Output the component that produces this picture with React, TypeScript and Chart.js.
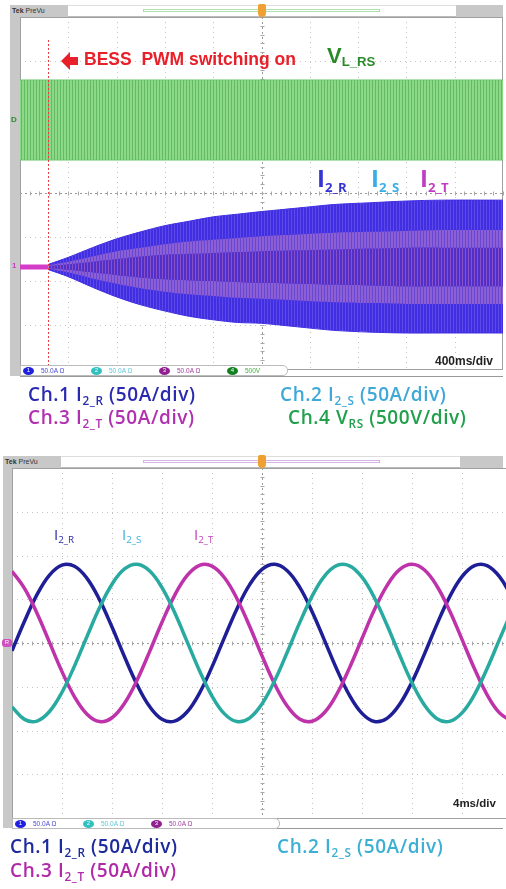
import React, { useEffect, useRef } from "react";
import { Chart, registerables } from "chart.js";
Chart.register(...registerables);

// ---------- Top scope (400 ms/div) ----------
const TOP_X_RANGE = [-2, 2]; // seconds
const SWITCH_ON_TIME = -1.764; // s, BESS PWM switching on
const V_BAND_TIME = [-2, 2];
const V_UPPER = [455, 455];
const V_LOWER = [-455, -455];
const PRE_TIME = [-2, SWITCH_ON_TIME];
const PRE_CURRENT = [0, 0];
const ENV_TIME = [-1.764, -1.6, -1.4, -1.2, -1.0, -0.8, -0.6, -0.4, -0.2, 0, 0.3, 0.6, 0.9, 1.2, 1.5, 2.0];
const I_UPPER = [3, 11, 22, 32, 40, 47, 52, 57, 60, 63, 67, 71, 73, 75, 76, 76];
const I_LOWER = [-3, -11, -23, -34, -43, -50, -56, -60, -63, -64, -68, -72, -74, -75, -75, -75];
const P_UPPER_OUTER = [2, 6, 12, 18, 22, 26, 29, 31, 33, 35, 37, 39, 40, 41, 42, 42];
const P_UPPER_INNER = [1, 3, 6, 9, 12, 14, 15, 16, 17, 18, 19, 20, 21, 22, 22, 22];
const P_LOWER_INNER = [-1, -3, -6, -9, -12, -14, -15, -16, -17, -18, -19, -20, -21, -22, -22, -22];
const P_LOWER_OUTER = [-2, -6, -13, -19, -24, -28, -31, -33, -35, -36, -38, -40, -41, -42, -42, -42];

// ---------- Bottom scope (4 ms/div) ----------
const BOT_X_RANGE = [-20, 20]; // ms
const T_MS = [-20, -19, -18, -17, -16, -15, -14, -13, -12, -11, -10, -9, -8, -7, -6, -5, -4, -3, -2, -1, 0, 1, 2, 3, 4, 5, 6, 7, 8, 9, 10, 11, 12, 13, 14, 15, 16, 17, 18, 19, 20];
const I2_R = [-8.9, 24.9, 55.2, 77.6, 89.0, 87.7, 73.9, 49.6, 18.2, -15.7, -47.4, -72.4, -87.1, -89.3, -78.9, -57.2, -27.3, 6.4, 39.2, 66.4, 84.2, 90.0, 82.9, 64.1, 36.1, 3.0, -30.6, -59.8, -80.4, -89.7, -86.1, -70.3, -44.5, -12.4, 21.6, 52.4, 75.8, 88.4, 88.4, 75.8, 52.4];
const I2_S = [-73.1, -87.3, -89.2, -78.3, -56.3, -26.2, 7.5, 40.2, 67.2, 84.6, 90.0, 82.5, 63.3, 35.1, 1.9, -31.6, -60.6, -81.0, -89.8, -85.8, -69.6, -43.5, -11.2, 22.7, 53.3, 76.4, 88.6, 88.2, 75.2, 51.5, 20.5, -13.5, -45.5, -71.0, -86.5, -89.6, -79.9, -58.9, -29.5, 4.1, 37.2];
const I2_T = [82.0, 62.4, 34.0, 0.7, -32.7, -61.5, -81.4, -89.8, -85.4, -68.9, -42.6, -10.1, 23.8, 54.2, 77.0, 88.8, 87.9, 74.6, 50.6, 19.4, -14.6, -46.5, -71.7, -86.8, -89.4, -79.4, -58.0, -28.4, 5.2, 38.2, 65.6, 83.8, 90.0, 83.4, 64.9, 37.2, 4.1, -29.5, -58.9, -79.9, -89.6];

const pts = (xs: number[], ys: number[]) => xs.map((x, i) => ({ x, y: ys[i] }));

function stripePattern(base: string, stripe: string, period: number, w: number) {
  const c = document.createElement("canvas");
  c.width = period;
  c.height = 4;
  const g = c.getContext("2d")!;
  g.fillStyle = base;
  g.fillRect(0, 0, period, 4);
  g.fillStyle = stripe;
  g.fillRect(0, 0, w, 4);
  return g.createPattern(c, "repeat")!;
}

const graticule = {
  id: "graticule",
  beforeDatasetsDraw(chart: any) {
    const { ctx, chartArea } = chart;
    const { left, right, top, bottom } = chartArea;
    const xs = chart.scales.x;
    const ys = chart.scales.yG;
    ctx.save();
    ctx.lineWidth = 1;
    ctx.strokeStyle = "#c4c4c4";
    ctx.setLineDash([1, 4]);
    for (let i = 1; i < 10; i++) {
      if (i === 5) continue;
      const x = Math.round(xs.getPixelForValue(xs.min + ((xs.max - xs.min) * i) / 10)) + 0.5;
      ctx.beginPath();
      ctx.moveTo(x, top);
      ctx.lineTo(x, bottom);
      ctx.stroke();
    }
    for (let j = -3; j <= 3; j++) {
      if (j === 0) continue;
      const y = Math.round(ys.getPixelForValue(j)) + 0.5;
      ctx.beginPath();
      ctx.moveTo(left, y);
      ctx.lineTo(right, y);
      ctx.stroke();
    }
    ctx.strokeStyle = "#9a9a9a";
    ctx.setLineDash([2, 3]);
    const cx = Math.round(xs.getPixelForValue((xs.min + xs.max) / 2)) + 0.5;
    const cy = Math.round(ys.getPixelForValue(0)) + 0.5;
    ctx.beginPath();
    ctx.moveTo(cx, top);
    ctx.lineTo(cx, bottom);
    ctx.moveTo(left, cy);
    ctx.lineTo(right, cy);
    ctx.stroke();
    ctx.setLineDash([]);
    ctx.strokeStyle = "#a8a8a8";
    const dx = (xs.getPixelForValue(xs.max) - xs.getPixelForValue(xs.min)) / 50;
    for (let k = 0; k <= 50; k++) {
      const x = Math.round(left + k * dx) + 0.5;
      ctx.beginPath();
      ctx.moveTo(x, cy - 2);
      ctx.lineTo(x, cy + 2);
      ctx.stroke();
    }
    const dy = (ys.getPixelForValue(-4) - ys.getPixelForValue(4)) / 40;
    for (let k = 0; k <= 40; k++) {
      const y = Math.round(top + k * dy) + 0.5;
      ctx.beginPath();
      ctx.moveTo(cx - 2, y);
      ctx.lineTo(cx + 2, y);
      ctx.stroke();
    }
    ctx.strokeStyle = "#a0a0a0";
    ctx.strokeRect(left + 0.5, top + 0.5, right - left - 1, bottom - top);
    ctx.restore();
  },
};

const hidden = (min: number, max: number, extra: any = {}) => ({ type: "linear", min, max, display: false, ...extra });

function TopScope() {
  const ref = useRef<HTMLCanvasElement>(null);
  useEffect(() => {
    const green = stripePattern("rgb(140,218,136)", "rgb(100,186,100)", 3, 1);
    const blue = stripePattern("rgb(64,46,226)", "rgb(94,72,230)", 3, 1);
    const purple = stripePattern("rgb(140,96,210)", "rgb(104,70,214)", 3, 1);
    const center = stripePattern("rgb(80,48,200)", "rgb(138,78,198)", 3, 1);
    const line = (data: any, color: string, yAxisID: string, order: number, extra: any = {}) => ({
      data, borderColor: color, borderWidth: 1, pointRadius: 0, yAxisID, fill: false, tension: 0.3, order, ...extra,
    });
    const chart = new Chart(ref.current!, {
      type: "line",
      data: {
        datasets: [
          line(pts(V_BAND_TIME, V_UPPER), "rgb(110,200,110)", "yV", 10),
          line(pts(V_BAND_TIME, V_LOWER), "rgb(110,200,110)", "yV", 10, { fill: "-1", backgroundColor: green }),
          line(pts(ENV_TIME, I_UPPER), "rgb(64,46,226)", "yI", 8),
          line(pts(ENV_TIME, I_LOWER), "rgb(64,46,226)", "yI", 8, { fill: "-1", backgroundColor: blue }),
          line(pts(ENV_TIME, P_UPPER_OUTER), "rgba(0,0,0,0)", "yI", 5, { borderWidth: 0 }),
          line(pts(ENV_TIME, P_UPPER_INNER), "rgba(0,0,0,0)", "yI", 5, { borderWidth: 0, fill: "-1", backgroundColor: purple }),
          line(pts(ENV_TIME, P_LOWER_INNER), "rgba(0,0,0,0)", "yI", 5, { borderWidth: 0, fill: "-1", backgroundColor: center }),
          line(pts(ENV_TIME, P_LOWER_OUTER), "rgba(0,0,0,0)", "yI", 5, { borderWidth: 0, fill: "-1", backgroundColor: purple }),
          line(pts(PRE_TIME, PRE_CURRENT), "rgb(212,60,200)", "yI", 2, { borderWidth: 5, tension: 0 }),
          line(pts([SWITCH_ON_TIME, SWITCH_ON_TIME], [258, -116]), "rgb(230,60,60)", "yI", 1, { borderDash: [2, 2], tension: 0 }),
        ],
      },
      options: {
        animation: false,
        responsive: true,
        maintainAspectRatio: false,
        layout: { padding: { left: 20, right: 3, top: 17, bottom: 11 } },
        plugins: { legend: { display: false }, tooltip: { enabled: false } },
        scales: {
          x: hidden(TOP_X_RANGE[0], TOP_X_RANGE[1]),
          yG: hidden(-4, 4),
          yI: hidden(-115.9, 284.1),
          yV: hidden(-2829.5, 1170.5),
        },
      } as any,
      plugins: [graticule],
    });
    return () => chart.destroy();
  }, []);
  return (
    <div style={{ position: "absolute", left: 0, top: 0, width: 506, height: 380 }}>
      <canvas ref={ref} />
    </div>
  );
}

function BottomScope() {
  const ref = useRef<HTMLCanvasElement>(null);
  useEffect(() => {
    const wave = (data: number[], color: string) => ({
      data: pts(T_MS, data), borderColor: color, borderWidth: 3.5, pointRadius: 0, tension: 0.4, fill: false, yAxisID: "y",
    });
    const chart = new Chart(ref.current!, {
      type: "line",
      data: {
        datasets: [
          wave(I2_S, "rgb(40,170,160)"),
          wave(I2_T, "rgb(190,50,170)"),
          wave(I2_R, "rgb(30,30,150)"),
        ],
      },
      options: {
        animation: false,
        responsive: true,
        maintainAspectRatio: false,
        layout: { padding: { left: 12, right: 8, top: 18, bottom: 22 } },
        plugins: { legend: { display: false }, tooltip: { enabled: false } },
        scales: {
          x: hidden(BOT_X_RANGE[0], BOT_X_RANGE[1]),
          yG: hidden(-4, 4),
          y: hidden(-200, 200),
        },
      } as any,
      plugins: [graticule],
    });
    return () => chart.destroy();
  }, []);
  return (
    <div style={{ position: "absolute", left: 0, top: 450, width: 520, height: 390 }}>
      <canvas ref={ref} />
    </div>
  );
}

const abs = (x: number, y: number, extra: any = {}): any => ({ position: "absolute", left: x, top: y, lineHeight: 1, whiteSpace: "nowrap", ...extra });
const CAP = "'Open Sans', 'Noto Sans', sans-serif";
const ARIAL = "'Liberation Sans', Arial, sans-serif";
const Sub = ({ children, size = "0.62em", dy = "-0.3em" }: any) => (
  <span style={{ fontSize: size, verticalAlign: dy }}>{children}</span>
);
const capStyle = (x: number, y: number, color: string) =>
  abs(x, y, { fontFamily: CAP, fontWeight: 600, fontSize: 19, letterSpacing: 0.6, color });

function Header({ y, x0, midColor, grayRight }: any) {
  return (
    <>
      <div style={abs(x0, y, { width: 503 - x0, height: 12, background: "#fff", borderTop: "1px solid #ddd", borderBottom: "1px solid #bbb", boxSizing: "border-box" })} />
      <div style={abs(x0, y, { width: 58, height: 12, background: "#c8c8c8", fontFamily: ARIAL, fontSize: 7, color: "#333", paddingLeft: 2, paddingTop: 2, boxSizing: "border-box" })}>
        <b>Tek</b> PreVu
      </div>
      <div style={abs(143, y + 4, { width: 237, height: 3, border: `1px solid ${midColor}`, boxSizing: "border-box", opacity: 0.8 })} />
      <div style={abs(grayRight, y, { width: 503 - grayRight, height: 12, background: "#c8c8c8" })} />
      <div style={abs(258, y - 1, { width: 8, height: 13, background: "#f0a030", borderRadius: "2px 2px 4px 4px" })} />
    </>
  );
}

function Badge({ x, y, items }: any) {
  return (
    <div style={abs(x, y, { width: 268, height: 11, background: "#fff", border: "1px solid #bbb", borderRadius: "0 5px 5px 0", boxSizing: "border-box" })}>
      {items.map((it: any, i: number) => (
        <React.Fragment key={i}>
          <div style={abs(2 + i * 68, 1, { width: 11, height: 8, borderRadius: "50%", background: it.dot, color: "#fff", fontSize: 6, textAlign: "center", fontFamily: ARIAL })}>{i + 1}</div>
          <div style={abs(20 + i * 68, 2, { fontSize: 6.5, color: it.text, fontFamily: ARIAL })}>{it.label}</div>
        </React.Fragment>
      ))}
    </div>
  );
}

export default function App() {
  return (
    <div style={{ position: "fixed", left: 0, top: 0, width: 506, height: 889, overflow: "hidden", background: "#fff" }}>
      <div style={abs(10, 17, { width: 10, height: 359, background: "#c8c8c8" })} />
      <TopScope />
      <Header y={5} x0={10} midColor="rgb(150,215,150)" grayRight={456} />
      <div style={abs(20, 376, { width: 483, height: 1, background: "#999" })} />
      <div style={abs(11, 116, { fontSize: 8, color: "#2a8a2a", fontFamily: ARIAL, fontWeight: 700 })}>D</div>
      <div style={abs(12, 262, { fontSize: 8, color: "#c040c0", fontFamily: ARIAL, fontWeight: 700 })}>1</div>

      <svg style={abs(60, 51)} width={20} height={20} viewBox="0 0 20 20">
        <polygon points="1,10 10,1 10,6 18,6 18,14 10,14 10,19" fill="#e8202a" />
      </svg>
      <div style={abs(84, 51, { fontFamily: ARIAL, fontWeight: 700, fontSize: 17.5, color: "#e8202a" })}>BESS&nbsp; PWM switching on</div>
      <div style={abs(327, 45, { fontFamily: ARIAL, fontWeight: 700, fontSize: 22, color: "#2a8a2a" })}>
        V<Sub size="0.6em" dy="-0.25em">L_RS</Sub>
      </div>
      <div style={abs(317, 166, { fontFamily: CAP, fontWeight: 700, fontSize: 24, color: "#3434d4" })}>
        I<Sub size="0.55em" dy="-0.35em">2_R</Sub>
      </div>
      <div style={abs(371, 166, { fontFamily: CAP, fontWeight: 700, fontSize: 24, color: "#38aee6" })}>
        I<Sub size="0.55em" dy="-0.35em">2_S</Sub>
      </div>
      <div style={abs(420, 166, { fontFamily: CAP, fontWeight: 700, fontSize: 24, color: "#c03cc4" })}>
        I<Sub size="0.55em" dy="-0.35em">2_T</Sub>
      </div>
      <div style={abs(435, 355, { fontFamily: ARIAL, fontWeight: 700, fontSize: 12, color: "#222" })}>400ms/div</div>
      <Badge x={20} y={365} items={[
        { dot: "#2020e0", text: "#4a4ad0", label: "50.0A Ω" },
        { dot: "#30c0c0", text: "#60c8d8", label: "50.0A Ω" },
        { dot: "#902090", text: "#a040a0", label: "50.0A Ω" },
        { dot: "#108020", text: "#40b040", label: "500V" },
      ]} />

      <div style={capStyle(28, 385, "#2a2ab0")}>Ch.1 I<Sub>2_R</Sub> (50A/div)</div>
      <div style={capStyle(280, 385, "#3ea8d8")}>Ch.2 I<Sub>2_S</Sub> (50A/div)</div>
      <div style={capStyle(28, 408, "#b030b0")}>Ch.3 I<Sub>2_T</Sub> (50A/div)</div>
      <div style={capStyle(288, 408, "#22a04c")}>Ch.4 V<Sub>RS</Sub> (500V/div)</div>

      <div style={abs(3, 466, { width: 9, height: 362, background: "#c8c8c8" })} />
      <BottomScope />
      <Header y={456} x0={3} midColor="rgb(200,160,220)" grayRight={460} />
      <div style={abs(12, 828, { width: 491, height: 1, background: "#999" })} />
      <div style={abs(2, 639, { width: 10, height: 8, borderRadius: 3, background: "#d050c0", color: "#fff", fontSize: 6, fontFamily: ARIAL, textAlign: "center" })}>R</div>
      <div style={abs(54, 527, { fontFamily: CAP, fontSize: 15, color: "#2a2aa8" })}>
        I<Sub size="0.65em" dy="-0.3em">2_R</Sub>
      </div>
      <div style={abs(122, 527, { fontFamily: CAP, fontSize: 15, color: "#40b0d8" })}>
        I<Sub size="0.65em" dy="-0.3em">2_S</Sub>
      </div>
      <div style={abs(194, 527, { fontFamily: CAP, fontSize: 15, color: "#c040b8" })}>
        I<Sub size="0.65em" dy="-0.3em">2_T</Sub>
      </div>
      <div style={abs(453, 798, { fontFamily: ARIAL, fontWeight: 700, fontSize: 11.5, color: "#222" })}>4ms/div</div>
      <Badge x={12} y={818} items={[
        { dot: "#2020e0", text: "#4a4ad0", label: "50.0A Ω" },
        { dot: "#30c0c0", text: "#60c8d8", label: "50.0A Ω" },
        { dot: "#902090", text: "#a040a0", label: "50.0A Ω" },
      ]} />

      <div style={capStyle(10, 837, "#1c2a9c")}>Ch.1 I<Sub>2_R</Sub> (50A/div)</div>
      <div style={capStyle(277, 837, "#3cb0d4")}>Ch.2 I<Sub>2_S</Sub> (50A/div)</div>
      <div style={capStyle(10, 861, "#b02aa8")}>Ch.3 I<Sub>2_T</Sub> (50A/div)</div>
    </div>
  );
}
